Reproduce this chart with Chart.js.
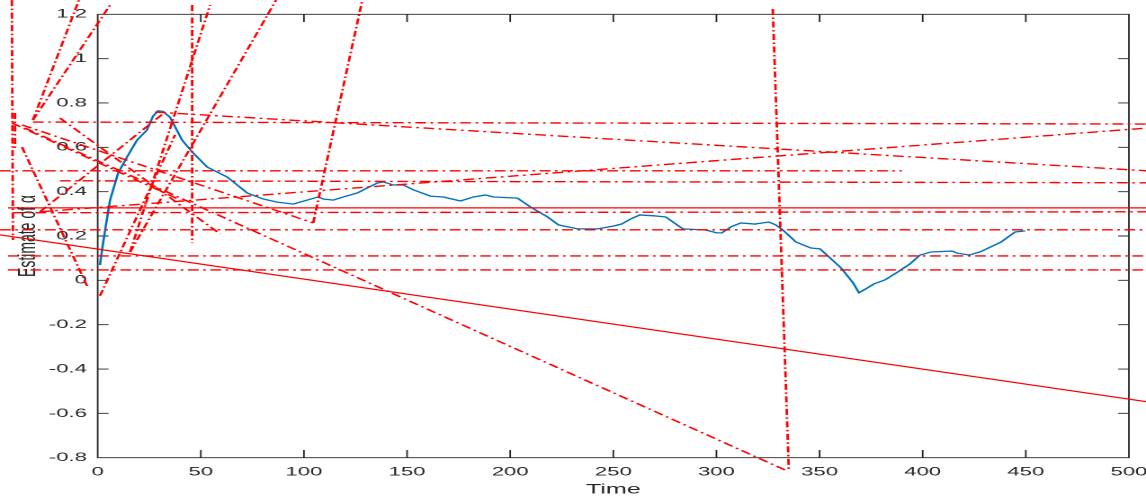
<!DOCTYPE html>
<html><head><meta charset="utf-8">
<script src="https://cdn.jsdelivr.net/npm/chart.js@4"></script>
<style>
html,body{margin:0;padding:0;background:#fff;overflow:hidden;}
#wrap{width:637px;height:501px;transform:scaleX(1.7991);transform-origin:0 0;}
</style></head><body>
<div id="wrap"><canvas id="c" width="637" height="501"></canvas></div>
<script>
// ---- data ----
const timeValues = [1.1,2.1,4.0,6.0,9.9,14.2,19.1,23.9,26.8,29.3,31.7,35.1,40.9,45.8,53.1,62.8,72.5,80.2,87.0,94.8,101.6,106.9,109.4,114.2,119.1,125.9,130.7,135.6,138.5,143.4,148.2,153.1,161.3,167.6,175.9,182.2,188.0,191.9,203.5,209.8,218.1,223.4,232.7,242.4,250.2,254.0,258.4,262.8,269.6,275.4,283.7,294.8,300.2,302.6,307.0,311.8,318.6,325.4,328.8,332.2,338.5,345.8,350.2,354.5,360.4,366.2,369.1,372.5,376.4,381.7,387.1,393.8,398.7,404.0,414.2,416.7,422.5,427.8,438.0,444.8,449.7];
const alphaValues = [0.069,0.137,0.250,0.362,0.484,0.556,0.633,0.678,0.740,0.765,0.762,0.735,0.633,0.579,0.511,0.466,0.394,0.367,0.353,0.344,0.362,0.376,0.367,0.362,0.376,0.394,0.417,0.439,0.444,0.430,0.430,0.408,0.380,0.376,0.358,0.376,0.385,0.376,0.371,0.331,0.286,0.250,0.232,0.232,0.245,0.254,0.277,0.295,0.291,0.286,0.232,0.227,0.214,0.214,0.241,0.259,0.254,0.263,0.250,0.227,0.173,0.146,0.142,0.106,0.056,-0.011,-0.056,-0.038,-0.016,0.002,0.033,0.074,0.114,0.128,0.132,0.123,0.114,0.128,0.173,0.218,0.223];
// red reference lines: [t0, a0, t1, a1]
const redDashDotLines = [
  [-41.6,1.264,-41.1,0.182],
  [45.8,1.242,45.8,0.168],
  [327.3,1.224,335.1,-0.859],
  [-35.3,0.687,334.1,-0.859],
  [27.8,0.759,508.9,0.494],
  [-28.0,0.309,508.9,0.687],
  [-28.0,0.309,32.7,0.759],
  [-36.7,0.701,104.5,0.259],
  [104.5,0.259,128.3,1.264],
  [-31.4,0.723,-9.1,1.264],
  [-31.4,0.723,6.0,1.242],
  [15.7,0.128,54.5,1.242],
  [15.7,0.128,86.5,1.264],
  [1.1,-0.070,37.5,0.656],
  [-36.7,0.601,-4.7,-0.034],
  [-18.3,0.732,59.4,0.209],
  [-31.4,0.714,508.9,0.705],
  [-47.4,0.494,389.9,0.494],
  [-18.3,0.449,508.9,0.440],
  [-41.1,0.305,508.9,0.309],
  [-47.4,0.228,508.9,0.228],
  [-43.5,0.110,508.9,0.110],
  [-43.5,0.047,508.9,0.047],
  [-40.1,0.755,-40.1,0.588],
  [-41.6,0.710,40.0,0.362]
];
const redSolidLines = [
  [-47.4,0.205,508.9,-0.548],
  [-43.5,0.327,508.9,0.327]
];
const xTickValues = [0,50,100,150,200,250,300,350,400,450,500];
const yTickValues = [-0.8,-0.6,-0.4,-0.2,0,0.2,0.4,0.6,0.8,1,1.2];
const yTickLabels = ['-0.8','-0.6','-0.4','-0.2','0','0.2','0.4','0.6','0.8','1','1.2'];
const xTitle = 'Time';
const yTitle = 'Estimate of α';

// ---- build ----
const RED = '#ff0000';
const datasets = [];
redDashDotLines.forEach(s => datasets.push({
  data: [{x:s[0],y:s[1]},{x:s[2],y:s[3]}],
  borderColor: RED, borderWidth: 1.4, borderDash: [6,2.5,1.5,2.5],
  pointRadius: 0, clip: false, tension: 0, fill: false
}));
redSolidLines.forEach(s => datasets.push({
  data: [{x:s[0],y:s[1]},{x:s[2],y:s[3]}],
  borderColor: RED, borderWidth: 1.2,
  pointRadius: 0, clip: false, tension: 0, fill: false
}));
datasets.push({
  data: timeValues.map((t,i)=>({x:t,y:alphaValues[i]})),
  borderColor: '#0072BD', borderWidth: 1.3, pointRadius: 0, tension: 0, fill: false, clip: false
});

const AXC = '#262626';
const boxPlugin = {
  id: 'boxTicks',
  beforeDatasetsDraw(chart) {
    const {ctx, chartArea: a, scales: {x, y}} = chart;
    ctx.save();
    ctx.strokeStyle = AXC;
    ctx.lineWidth = 0.9;
    ctx.beginPath();
    ctx.rect(a.left, a.top, a.right - a.left, a.bottom - a.top);
    x.ticks.forEach(t => {
      const p = x.getPixelForValue(t.value);
      ctx.moveTo(p, a.bottom); ctx.lineTo(p, a.bottom - 7.7);
      ctx.moveTo(p, a.top); ctx.lineTo(p, a.top + 7.7);
    });
    y.ticks.forEach(t => {
      const p = y.getPixelForValue(t.value);
      ctx.moveTo(a.left, p); ctx.lineTo(a.left + 6, p);
      ctx.moveTo(a.right, p); ctx.lineTo(a.right - 6, p);
    });
    ctx.stroke();
    ctx.restore();
  }
};

new Chart(document.getElementById('c'), {
  type: 'line',
  data: { datasets },
  plugins: [boxPlugin],
  options: {
    responsive: false,
    devicePixelRatio: 2,
    animation: false,
    layout: { padding: { left: 0, right: 9.5, top: 14.3, bottom: 0 } },
    plugins: { legend: { display: false }, tooltip: { enabled: false } },
    scales: {
      x: {
        type: 'linear', min: 0, max: 500,
        afterBuildTicks: s => { s.ticks = xTickValues.map(v => ({value: v})); },
        afterFit: s => { s.height = 43.3; s.paddingRight = 0; s.paddingLeft = 0; },
        grid: { display: false, drawTicks: false },
        border: { display: false },
        ticks: { color: AXC, padding: 7, maxRotation: 0, font: { family: 'Liberation Sans', size: 12.3 } },
        title: { display: true, text: xTitle, color: AXC, padding: { top: 0, bottom: 3 }, font: { family: 'Liberation Sans', size: 14 } }
      },
      y: {
        type: 'linear', min: -0.8, max: 1.2,
        afterBuildTicks: s => { s.ticks = yTickValues.map(v => ({value: v})); },
        afterFit: s => { s.width = 54.3; },
        grid: { display: false, drawTicks: false },
        border: { display: false },
        ticks: { color: AXC, padding: 6, callback: (v) => yTickLabels[yTickValues.indexOf(v)] ?? String(v), font: { family: 'Liberation Sans', size: 12.3 } },
        title: { display: true, text: yTitle, color: AXC, padding: { top: 7, bottom: 0 }, font: { family: 'Liberation Sans', size: 14 } }
      }
    }
  }
});
</script>
</body></html>
